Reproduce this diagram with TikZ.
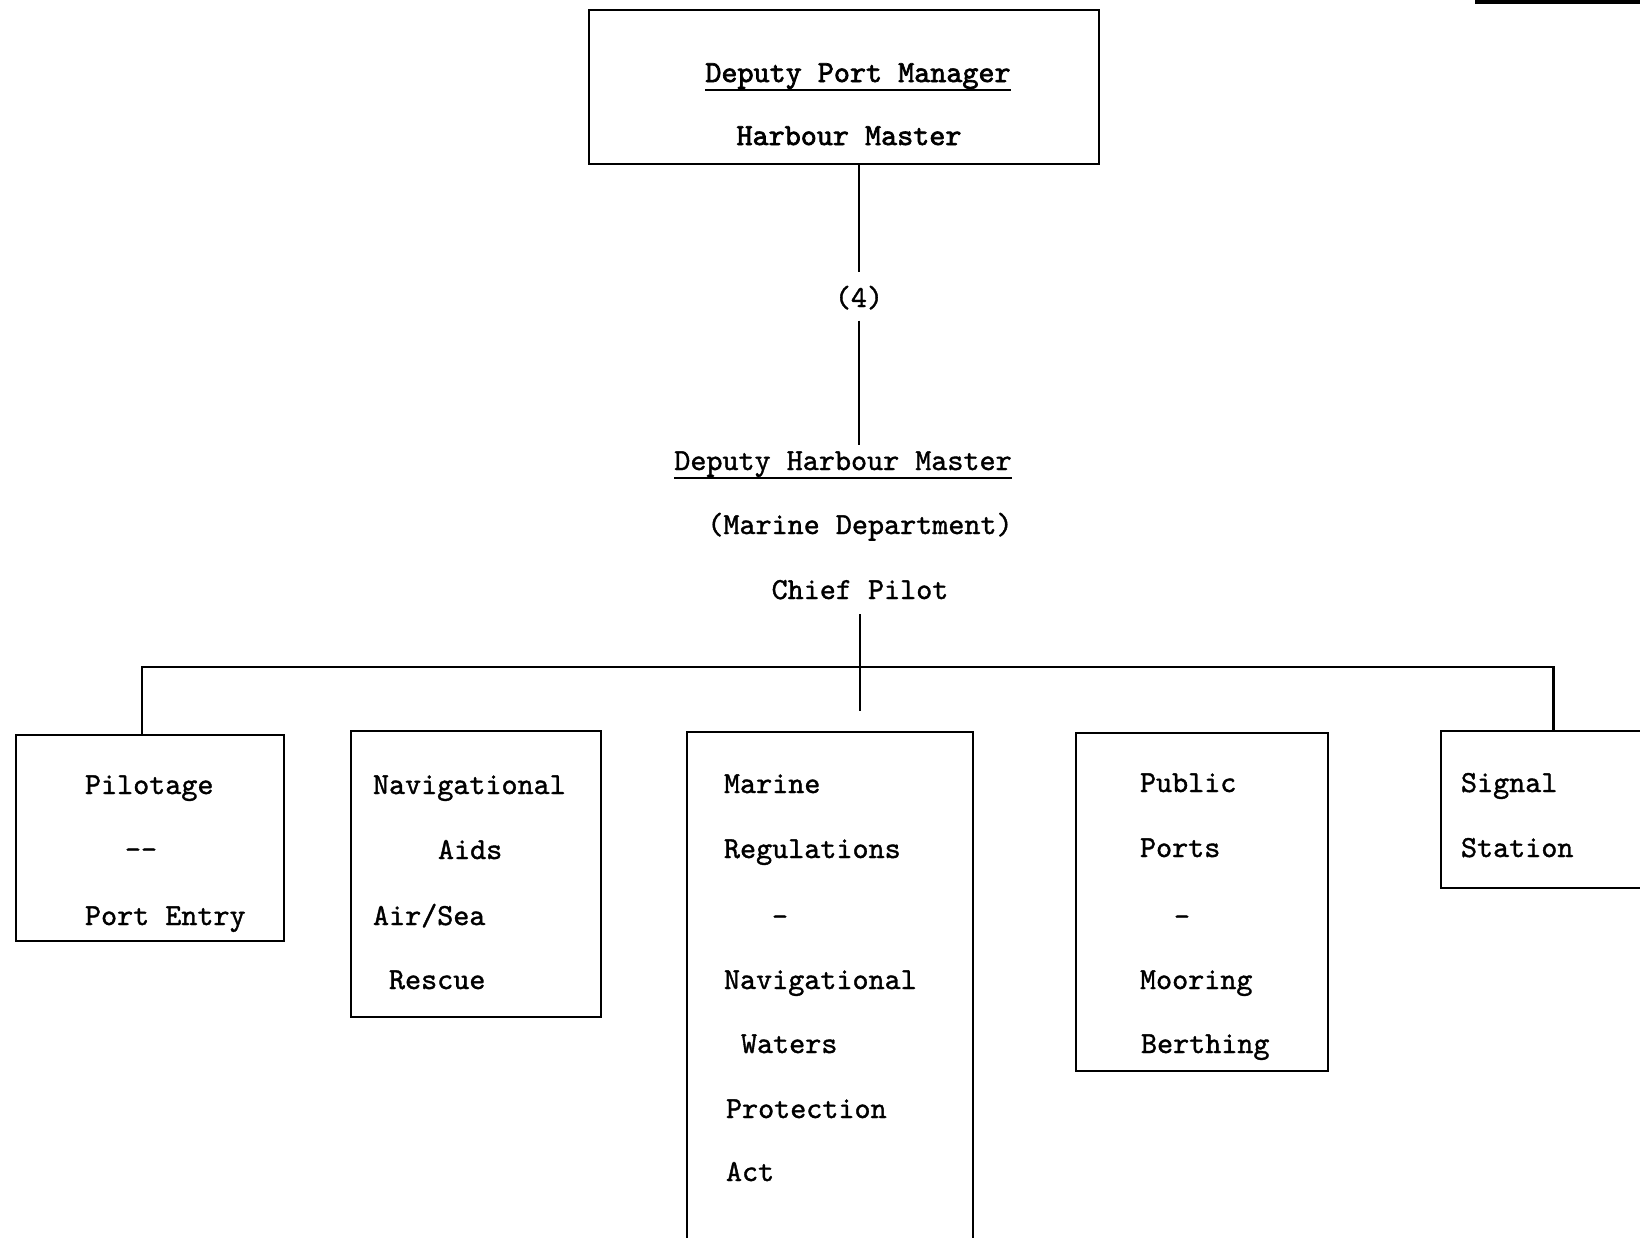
\documentclass[tikz,border=0pt]{standalone}
\usepackage{fontspec}
\newfontfamily\twfont{lmmono10-regular.otf}[FakeBold=1.2]
\newfontfamily\twheavy{lmmono10-regular.otf}[FakeBold=2.2]
\begin{document}
\begin{tikzpicture}[x=0.5pt,y=-0.5pt,
  every node/.style={font=\twfont\fontsize{15.3pt}{18pt}\selectfont, inner sep=0pt, outer sep=0pt},
  heavy/.style={font=\twheavy\fontsize{15.3pt}{18pt}\selectfont},
  orgbox/.style={draw, line width=1.4pt, rectangle},
  conn/.style={line width=1.4pt},
  uline/.style={line width=1.4pt},
  lbl/.style={anchor=base},
  lft/.style={anchor=base west}]
\useasboundingbox (0,0) rectangle (1640,1238);
\clip (0,0) rectangle (1640,1238);

% top box
\node[orgbox, minimum width=255pt, minimum height=77pt] (top) at (844,87) {};
\node[lbl, heavy] (dpm) at (858,82) {Deputy Port Manager};
\draw[uline] ([yshift=-4pt]dpm.base west) -- ([yshift=-4pt]dpm.base east);
\node[lbl, heavy] (hm) at (849,145) {Harbour Master};

\node[lbl] (n4) at (859,307) {(4)};
\node[lbl] (dhm) at (843,470) {Deputy Harbour Master};
\draw[uline] ([yshift=-4pt]dhm.base west) -- ([yshift=-4pt]dhm.base east);
\node[lbl] (md) at (860,534) {(Marine Department)};
\node[lbl] (cp) at (860,599) {Chief Pilot};

% boxes
\node[orgbox, minimum width=134pt, minimum height=103pt] (b1) at (150,838) {};
\node[orgbox, minimum width=125pt, minimum height=143pt] (b2) at (476,874) {};
\node[orgbox, minimum width=143pt, minimum height=259pt] (b3) at (830,991) {};
\node[orgbox, minimum width=126pt, minimum height=169pt] (b4) at (1202,902) {};
\node[orgbox, minimum width=109.5pt, minimum height=78.5pt] (b5) at (1550.5,809.5) {};

% connectors
\coordinate (bus) at (860,667);
\coordinate (cend) at (860,711);
\draw[conn] (top.south -| n4.north) -- ([yshift=7pt]n4.north);
\draw[conn] ([yshift=-5.5pt]n4.south) -- ([yshift=3pt]n4.south |- dhm.north);
\draw[conn] ([yshift=-7.5pt]cp.south) -- (cend);
\draw[conn] ([xshift=-4pt]b1.north) |- (bus) -| ([xshift=1.5pt]b5.north);

% top right fragment
\coordinate (tr1) at (1475,2);
\coordinate (tr2) at (1640,2);
\draw[line width=1.6pt] (tr1) -- (tr2);

% box 1 texts
\node[lft] (t11) at (85,794) {Pilotage};
\node[lbl] (t12) at (141,859) {--};
\node[lft] (t13) at (85,925) {Port Entry};

% box 2 texts
\node[lft] (t21) at (373,794) {Navigational};
\node[lft] (t22) at (438,859) {Aids};
\node[lft] (t23) at (373,925) {Air/Sea};
\node[lft] (t24) at (389,989) {Rescue};

% box 3 texts
\node[lft] (t31) at (724,793) {Marine};
\node[lft] (t32) at (724,858) {Regulations};
\node[lbl] (t33) at (780,926) {-};
\node[lft] (t34) at (724,989) {Navigational};
\node[lft] (t35) at (741,1053) {Waters};
\node[lft] (t36) at (726,1118) {Protection};
\node[lft] (t37) at (726,1181) {Act};

% box 4 texts
\node[lft] (t41) at (1140,792) {Public};
\node[lft] (t42) at (1140,857) {Ports};
\node[lbl] (t43) at (1182,926) {-};
\node[lft] (t44) at (1140,989) {Mooring};
\node[lft] (t45) at (1141,1053) {Berthing};

% box 5 texts
\node[lft] (t51) at (1461,792) {Signal};
\node[lft] (t52) at (1461,857) {Station};
\end{tikzpicture}
\end{document}
